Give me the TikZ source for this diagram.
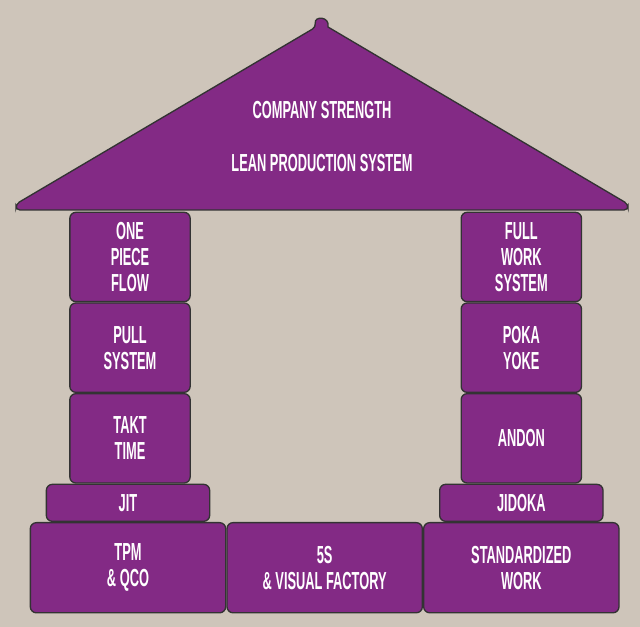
\documentclass[tikz,border=0pt]{standalone}
\usepackage{fontspec}
\setmainfont[FakeStretch=0.52]{Liberation Sans}
\usetikzlibrary{positioning}

\definecolor{wall}{HTML}{CEC5BA}
\definecolor{lean}{HTML}{832A85}
\definecolor{edge}{HTML}{333333}

\tikzset{
  block/.style={draw=edge, fill=lean, line width=1pt, rounded corners=4.5pt,
    text=white, align=center, inner sep=0pt,
    font={\bfseries\fontsize{18.5pt}{19.5pt}\selectfont}},
  pillar/.style={block, minimum width=90.25pt, minimum height=67pt},
  ledge/.style={block, minimum width=122.5pt, minimum height=27.75pt},
  base/.style={block, minimum width=146.5pt, minimum height=67.6pt},
  roof/.style={draw=edge, fill=lean, line width=1pt},
  title/.style={text=white, font={\bfseries\fontsize{18.5pt}{19.5pt}\selectfont}}
}

\begin{document}
\begin{tikzpicture}[x=0.75pt,y=-0.75pt]
      \useasboundingbox (0,0) rectangle (640,627);
      \fill[wall] (0,0) rectangle (640,627);

      % roof with the little knob on top
      \draw[roof] (316,27) .. controls (314,16) and (330,16) .. (328,27)
        [rounded corners=3pt] -- (628,204) -- (628,210) -- (16,210) -- (16,204) -- cycle;
      \node[title] (strength) at (322,110) {COMPANY STRENGTH};
      \node[title] (lps) at (322,163) {LEAN PRODUCTION SYSTEM};

      % left pillar
      \node[pillar] (flow) at (130,257) {ONE\\PIECE\\FLOW};
      \node[pillar,below=0pt of flow] (pull) {PULL\\SYSTEM};
      \node[pillar,below=0pt of pull] (takt) {TAKT\\TIME};
      \node[ledge,below=0pt of takt,xshift=-1.5pt] (jit) {JIT};

      % foundation
      \node[base,below=0pt of jit] (tpm) {TPM\\\& QCO};
      \node[base,right=0pt of tpm] (vsf) {5S\\\& VISUAL FACTORY};
      \node[base,right=0pt of vsf] (std) {STANDARDIZED\\WORK};

      % right pillar
      \node[ledge,above=0pt of std] (jidoka) {JIDOKA};
      \node[pillar,above=0pt of jidoka] (andon) {ANDON};
      \node[pillar,above=0pt of andon] (poka) {POKA\\YOKE};
      \node[pillar,above=0pt of poka] (fws) {FULL\\WORK\\SYSTEM};
    \end{tikzpicture}
\end{document}
